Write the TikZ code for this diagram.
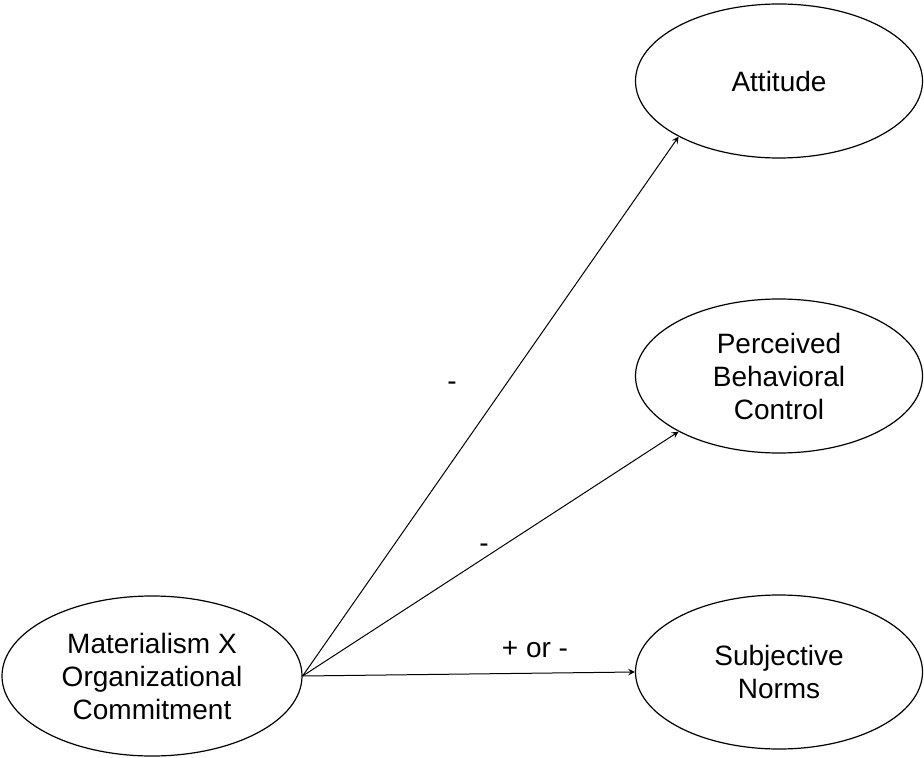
\documentclass[tikz,border=0pt]{standalone}
\usepackage{fontspec}
\setmainfont{Liberation Sans}
\usetikzlibrary{shapes.geometric}

\begin{document}
\begin{tikzpicture}[x=0.5pt,y=-0.5pt,>=stealth,
  construct/.style={draw,ellipse,line width=0.6pt,inner sep=0pt,align=center,
    font=\fontsize{14}{16.5}\selectfont},
  sign/.style={font=\fontsize{14}{16.5}\selectfont,inner sep=0pt},
  link/.style={->,line width=0.5pt}]
  \useasboundingbox (0,0) rectangle (924,758);
  % constructs
  \node[construct,minimum width=150pt,minimum height=80pt] (mat) at (152,676)
    {Materialism X\\Organizational\\Commitment};
  \node[construct,minimum width=143.5pt,minimum height=77pt] (att) at (779,81)
    {Attitude};
  \node[construct,minimum width=143.5pt,minimum height=77pt] (pbc) at (779,376)
    {Perceived\\Behavioral\\Control};
  \node[construct,minimum width=143.5pt,minimum height=77pt] (sn) at (779,672)
    {Subjective\\Norms};
  % paths
  \draw[link] (mat.east) -- (att.209);
  \draw[link] (mat.east) -- (pbc.209);
  \draw[link] (mat.east) -- (sn.west);
  % signs
  \node[sign] (sgnatt) at (452,386) {-};
  \node[sign] (sgnpbc) at (484,548) {-};
  \node[sign] (sgnsn) at (535,650) {+ or -};
\end{tikzpicture}
\end{document}
